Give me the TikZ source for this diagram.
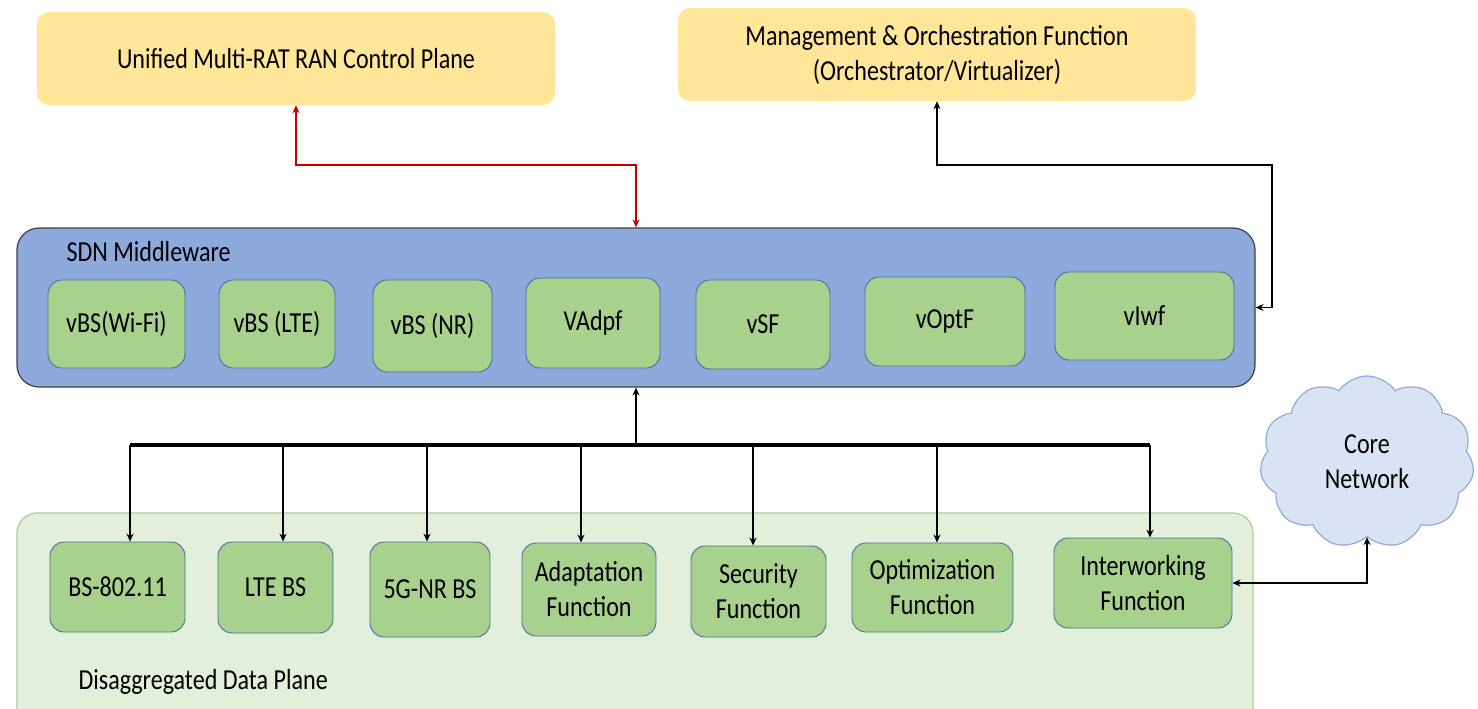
\documentclass[tikz,border=0pt]{standalone}
\usepackage{fontspec}
\setmainfont[FakeStretch=0.83]{Carlito}
\usetikzlibrary{arrows.meta,shapes.symbols}
\definecolor{planeyellow}{HTML}{FFE699}
\definecolor{mwblue}{HTML}{8EA9DB}
\definecolor{fnGreen}{HTML}{A9D18E}
\definecolor{fnBorder}{HTML}{41719C}
\definecolor{dpGreen}{HTML}{E2EFDA}
\definecolor{cloudBlue}{HTML}{DAE3F3}
\definecolor{cloudBorder}{HTML}{8FAADC}
\definecolor{ctrlRed}{HTML}{C00000}
\begin{document}
\begin{tikzpicture}[
	x=1pt, y=-1pt,
	font=\fontsize{29}{35}\selectfont,
	>={Stealth[length=8pt,width=7pt]},
	ctrlbox/.style={fill=planeyellow, rounded corners=12pt, align=center,
		minimum width=518pt, minimum height=93pt, inner sep=0pt},
	fnbox/.style={draw=fnBorder, fill=fnGreen, line width=0.9pt,
		rounded corners=14pt, align=center, inner sep=0pt},
	link/.style={<->, line width=1.9pt}]
   \useasboundingbox (0,0) rectangle (1478,709);
   % planes
   \node[ctrlbox] (ucp) at (296,58.5) {Unified Multi-RAT RAN Control Plane};
   \node[ctrlbox] (mof) at (937,54.5) {Management \& Orchestration Function\\(Orchestrator/Virtualizer)};
   \node[draw=black!75, fill=mwblue, line width=1.2pt, rounded corners=22pt,
	minimum width=1238pt, minimum height=159pt] (mw) at (636,307.5) {};
   \node[anchor=west] (mwlabel) at (63,252) {SDN Middleware};
   \draw[draw=fnGreen, fill=dpGreen, line width=1.2pt, rounded corners=20pt]
	(17,513) rectangle (1253,740);
   \node[anchor=west] (dplabel) at (75,682) {Disaggregated Data Plane};
   % virtual functions
   \node[fnbox, minimum width=137pt, minimum height=88pt] (vwifi) at (116.5,324) {vBS(Wi-Fi)};
   \node[fnbox, minimum width=116pt, minimum height=88pt] (vlte) at (277,324) {vBS (LTE)};
   \node[fnbox, minimum width=119pt, minimum height=92pt] (vnr) at (432.5,326) {vBS (NR)};
   \node[fnbox, minimum width=134pt, minimum height=90pt] (vadpf) at (593,323) {VAdpf};
   \node[fnbox, minimum width=134pt, minimum height=89pt] (vsf) at (763,324.5) {vSF};
   \node[fnbox, minimum width=160pt, minimum height=89pt] (voptf) at (945,321.5) {vOptF};
   \node[fnbox, minimum width=179pt, minimum height=88pt] (viwf) at (1144.5,316) {vIwf};
   % data plane functions
   \node[fnbox, minimum width=135pt, minimum height=90pt] (bswifi) at (117.5,587) {BS-802.11};
   \node[fnbox, minimum width=115pt, minimum height=91pt] (ltebs) at (275.5,587.5) {LTE BS};
   \node[fnbox, minimum width=120pt, minimum height=95pt] (nrbs) at (430,589.5) {5G-NR BS};
   \node[fnbox, minimum width=134pt, minimum height=93pt] (adaptfn) at (589,589.5) {Adaptation\\Function};
   \node[fnbox, minimum width=135pt, minimum height=91pt] (securfn) at (758.5,591.5) {Security\\Function};
   \node[fnbox, minimum width=161pt, minimum height=89pt] (optimfn) at (932.5,587.5) {Optimization\\Function};
   \node[fnbox, minimum width=178pt, minimum height=90pt] (interfn) at (1143,583) {Interworking\\Function};
   \node[cloud, cloud puffs=11, cloud puff arc=110, aspect=1.25, draw=cloudBorder,
	fill=cloudBlue, line width=1.2pt, align=center, minimum width=214pt,
	minimum height=172pt, inner sep=0pt] (core) at (1367,462) {Core\\Network};
   % connectors
   \coordinate (redknee) at (636,165);
   \draw[link, ctrlRed] (ucp.south) |- (redknee) -- (redknee |- mw.north);
   \draw[link] (mof.south) |- (1272,165) |- (mw.east);
   \draw[link] (core.south) |- (interfn.east);
   \coordinate (busmid) at (636,445);
   \draw[line width=3.2pt] (130,445) -- (1150,445);
   \draw[->, line width=1.9pt] (busmid) -- (busmid |- mw.south);
   \foreach \bx/\fn in {130/bswifi, 283/ltebs, 427/nrbs, 581/adaptfn,
	753/securfn, 937/optimfn, 1150/interfn}
	\draw[->, line width=1.9pt] (\bx,445) -- (\bx,445 |- \fn.north);
\end{tikzpicture}
\end{document}
